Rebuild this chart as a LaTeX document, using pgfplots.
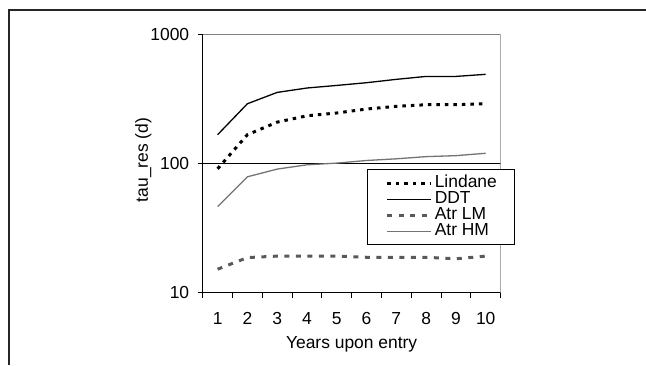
\documentclass[border=0pt]{standalone}
\usepackage{fontspec}
\setmainfont{Liberation Sans}
\usepackage{pgfplots}
\pgfplotsset{compat=1.18}
\begin{document}
\begin{tikzpicture}[x=1bp,y=1bp]
\useasboundingbox (0,0) rectangle (646,365);
\draw[line width=1.3bp, black!85] (9,0) -- (9,355) -- (646,355);
\begin{axis}[
  at={(202.7bp,72.3bp)}, anchor=south west,
  scale only axis, width=297.9bp, height=258.4bp,
  xmin=0.5, xmax=10.5, ymode=log, ymin=10, ymax=1000,
  axis lines=left, axis line style={-, line width=1.2bp, black},
  xtick={1,...,10}, xticklabels={1,2,3,4,5,6,7,8,9,10},
  minor xtick={0.5,1.5,...,10.5},
  ytick={10,100,1000}, yticklabels={10,100,1000}, yminorticks=false,
  tick align=outside, major tick length=5bp, minor tick length=5bp,
  x tick style={draw=none}, minor x tick style={draw=black, line width=1bp},
  y tick style={line width=1bp, black},
  /pgf/number format/assume math mode=true,
  tick label style={font=\fontsize{17.5}{20}\selectfont},
  xticklabel style={yshift=-11bp},
  yticklabel style={xshift=-5bp},
  label style={font=\fontsize{17.5}{20}\selectfont},
  xlabel={Years upon entry}, ylabel={tau\_res (d)},
  xlabel style={at={(axis description cs:0.5,-0.214)}, anchor=base},
  ylabel style={at={(axis description cs:-0.1994,0.5135)}, anchor=center},
  legend style={at={(axis description cs:0.5525,0.4776)}, anchor=north west,
    draw=black, line width=1bp, inner xsep=18bp, inner ysep=5.4bp,
    font=\fontsize{17.5}{20}\selectfont, row sep=0pt, column sep=2bp,
    nodes={inner sep=0pt, text height=12bp, text depth=4bp}},
  legend cell align=left,
  legend image code/.code={\draw[#1] (0bp,0bp) -- (44bp,0bp);},
]
\draw[black, line width=1bp] (axis cs:0.5,100) -- (axis cs:10.5,100);
\draw[gray, line width=1bp] (rel axis cs:0,1) -- (rel axis cs:1,1) -- (rel axis cs:1,0);
\addplot[black, line width=3bp, dash pattern=on 3.5bp off 5bp] coordinates {
(1,91) (2,167) (3,209) (4,234) (5,246) (6,264) (7,277) (8,285) (9,285) (10,290)};
\addlegendentry{Lindane}
\addplot[black, line width=1.3bp] coordinates {
(1,167) (2,290) (3,355) (4,384) (5,402) (6,422) (7,448) (8,472) (9,472) (10,490)};
\addlegendentry{DDT}
\addplot[black!65, line width=3bp, dash pattern=on 5bp off 6.5bp] coordinates {
(1,15.2) (2,18.7) (3,19.2) (4,19.2) (5,19.2) (6,18.8) (7,18.8) (8,18.8) (9,18.3) (10,19.2)};
\addlegendentry{Atr LM}
\addplot[black!55, line width=1.3bp] coordinates {
(1,46.4) (2,78.9) (3,90.5) (4,97.7) (5,100.7) (6,105.5) (7,108.7) (8,113) (9,115) (10,120)};
\addlegendentry{Atr HM}
\end{axis}
\end{tikzpicture}
\end{document}
